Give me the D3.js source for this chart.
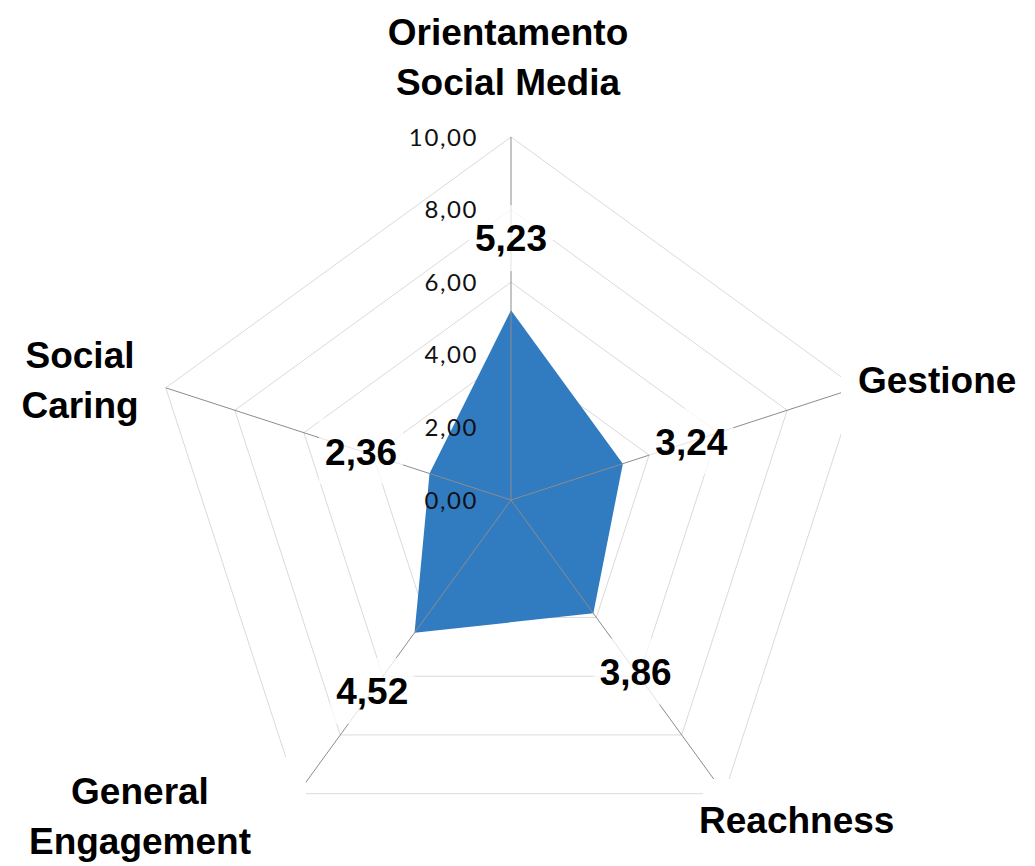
<!DOCTYPE html>
<html>
<head>
<meta charset="utf-8">
<script src="https://cdn.jsdelivr.net/npm/d3@7"></script>
<style>
  html, body { margin: 0; padding: 0; background: #fff; }
  svg { display: block; }
</style>
</head>
<body>
<svg id="chart" width="1035" height="866"></svg>
<script>
// Radar chart data
const categories = ["Orientamento\nSocial Media", "Gestione", "Reachness", "General\nEngagement", "Social\nCaring"];
const values = [5.23, 3.24, 3.86, 4.52, 2.36];
const tickValues = [0, 2, 4, 6, 8, 10];

const W = 1035, H = 866;
const cx = 511, cy = 500, R = 363;
const svg = d3.select("#chart");

const it = d3.formatLocale({ decimal: ",", thousands: ".", grouping: [3], currency: ["", " €"] });
const fmt = it.format(".2f");

const r = d3.scaleLinear().domain([0, 10]).range([0, R]);
const angle = d3.scaleLinear().domain([0, categories.length]).range([-Math.PI / 2, 1.5 * Math.PI]);
const pt = (i, v) => [cx + r(v) * Math.cos(angle(i)), cy + r(v) * Math.sin(angle(i))];

const idx = d3.range(categories.length);

// concentric pentagon grid
svg.append("g").selectAll("polygon").data(tickValues.filter(t => t > 0)).join("polygon")
  .attr("points", t => idx.map(i => pt(i, t).join(",")).join(" "))
  .attr("fill", "none").attr("stroke", "#dadada").attr("stroke-width", 1);

// series area
const line = d3.line().curve(d3.curveLinearClosed);
svg.append("path")
  .attr("d", line(idx.map(i => pt(i, values[i]))))
  .attr("fill", "#317bc0");

// spokes
svg.append("g").selectAll("line").data(idx).join("line")
  .attr("x1", cx).attr("y1", cy)
  .attr("x2", i => pt(i, 10)[0]).attr("y2", i => pt(i, 10)[1])
  .attr("stroke", "#8c8c8c").attr("stroke-width", 1);

// category label areas (opaque boxes that hide the grid behind the labels)
const labelLayout = [
  { x: 508, y: 32, anchor: "middle", box: [380, 0, 640, 112] },
  { x: 858, y: 380, anchor: "start", box: [841, 335, 1035, 440] },
  { x: 699, y: 820, anchor: "start", box: [703, 779, 1035, 866] },
  { x: 140, y: 791, anchor: "middle", box: [0, 757, 306, 866] },
  { x: 80, y: 355, anchor: "middle", box: [0, 320, 150, 440] }
];
svg.append("g").selectAll("rect").data(labelLayout).join("rect")
  .attr("x", d => d.box[0]).attr("y", d => d.box[1])
  .attr("width", d => d.box[2] - d.box[0]).attr("height", d => d.box[3] - d.box[1])
  .attr("fill", "#fff");

// data labels, offset outward along each spoke
const labelOffset = 72;
const dl = svg.append("g").selectAll("g").data(idx).join("g")
  .attr("transform", i => {
    const a = angle(i), d = r(values[i]) + labelOffset;
    return `translate(${cx + d * Math.cos(a)},${cy + d * Math.sin(a)})`;
  });
dl.append("rect")
  .attr("x", -42).attr("y", -33).attr("width", 84).attr("height", 66)
  .attr("fill", "#fff").attr("opacity", 0.75);

// radial axis tick labels
svg.append("g").selectAll("text").data(tickValues).join("text")
  .attr("x", 478).attr("y", t => cy - r(t))
  .attr("dy", "0.36em")
  .attr("text-anchor", "end")
  .attr("font-family", "Lato, 'Open Sans', sans-serif")
  .attr("font-size", 24)
  .attr("letter-spacing", 1.6)
  .attr("fill", "#111")
  .text(t => fmt(t));

dl.append("text")
  .attr("text-anchor", "middle").attr("dy", "0.36em")
  .attr("font-family", "'Liberation Sans', Arial, sans-serif")
  .attr("font-weight", "bold").attr("font-size", 37)
  .attr("fill", "#000")
  .text(i => fmt(values[i]));

// category labels
const cl = svg.append("g").selectAll("text").data(idx).join("text")
  .attr("x", i => labelLayout[i].x).attr("y", i => labelLayout[i].y)
  .attr("text-anchor", i => labelLayout[i].anchor)
  .attr("font-family", "'Liberation Sans', Arial, sans-serif")
  .attr("font-weight", "bold").attr("font-size", 37)
  .attr("fill", "#000");
cl.selectAll("tspan").data(i => categories[i].split("\n").map(s => ({ s, i }))).join("tspan")
  .attr("x", d => labelLayout[d.i].x)
  .attr("dy", (d, k) => k === 0 ? "0.36em" : "50px")
  .text(d => d.s);
</script>
</body>
</html>
